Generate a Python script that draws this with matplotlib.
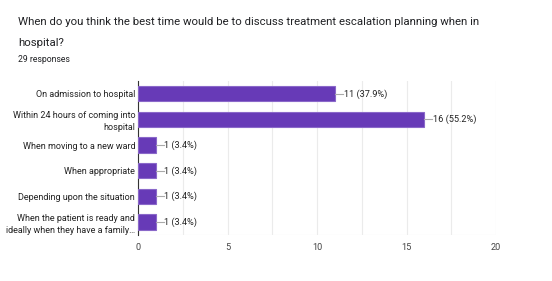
import matplotlib.pyplot as plt
import numpy as np

plt.rcParams['font.family'] = ['Roboto', 'DejaVu Sans']

# Dados
categorias = [
    'On admission to hospital',
    'Within 24 hours of coming into\nhospital',
    'When moving to a new ward',
    'When appropriate',
    'Depending upon the situation',
    'When the patient is ready and\nideally when they have a family\u2026',
]
contagens = [11, 16, 1, 1, 1, 1]
rotulos = ['11 (37.9%)', '16 (55.2%)', '1 (3.4%)', '1 (3.4%)', '1 (3.4%)', '1 (3.4%)']
ticks_x = [0, 5, 10, 15, 20]

fig = plt.figure(figsize=(5.52, 2.81), dpi=100)
ax = fig.add_axes([0.25, 0.164, 0.6486, 0.548])

y = np.arange(len(categorias))
ax.barh(y, contagens, height=0.6, color='#673ab7', edgecolor='#8a68c9', linewidth=0.8, zorder=3)

for yi, v, txt in zip(y, contagens, rotulos):
    ax.plot([v, v + 0.45], [yi, yi], color='#aaaaaa', linewidth=0.8, zorder=3)
    ax.text(v + 0.48, yi, txt, va='center', ha='left', fontsize=6.6, color='#222222')

ax.set_xlim(0, 20)
ax.set_ylim(len(categorias) - 0.5, -0.5)
ax.set_yticks(y)
ax.set_yticklabels(categorias, fontsize=6.5, color='#222222', linespacing=1.35)
ax.set_xticks(ticks_x)
ax.set_xticklabels([str(t) for t in ticks_x], fontsize=6.6, color='#444444')
ax.set_xticks(np.arange(0, 20.1, 2.5), minor=True)
ax.grid(True, axis='x', which='both', color='#ebebeb', linewidth=0.8, zorder=0)
ax.tick_params(axis='both', which='both', length=0, pad=2)
ax.tick_params(axis='x', pad=6)
for s in ['top', 'right', 'bottom']:
    ax.spines[s].set_visible(False)
ax.spines['left'].set_color('#333333')
ax.spines['left'].set_linewidth(0.8)
ax.axhline(len(categorias) - 0.5, color='#dddddd', linewidth=0.8, zorder=1)

fig.text(18 / 552, 1 - 22 / 281, 'When do you think the best time would be to discuss treatment escalation planning when in',
         fontsize=8.2, color='#202124', va='center')
fig.text(18 / 552, 1 - 43 / 281, 'hospital?', fontsize=8.2, color='#202124', va='center')
fig.text(18 / 552, 1 - 60 / 281, '29 responses', fontsize=6.2, color='#202124', va='center')

plt.savefig('out.png', dpi=100)
plt.close()
